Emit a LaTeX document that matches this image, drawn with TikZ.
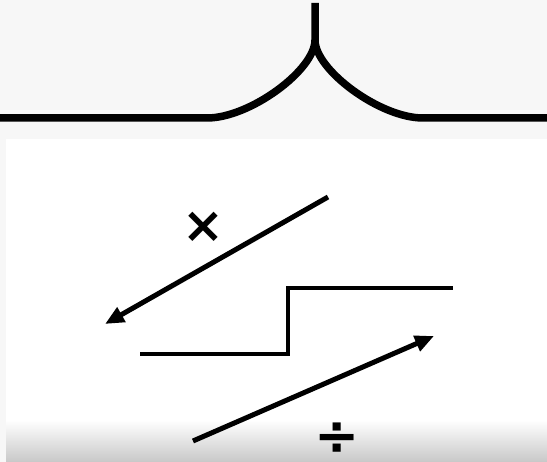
\documentclass[tikz,border=0pt]{standalone}
\usepackage{fontspec}
\newfontfamily\symfont{DejaVu Sans}
\usetikzlibrary{arrows.meta}
\definecolor{bggray}{RGB}{247,247,247}
\definecolor{botgray}{RGB}{200,200,200}
\tikzset{
  brace/.style={line width=7.5pt, line cap=butt},
  arrowline/.style={line width=5pt, -{Triangle[length=19pt,width=16pt]}},
  stepline/.style={line width=3.8pt},
  sym/.style={font=\symfont\bfseries\fontsize{50}{50}\selectfont, inner sep=0pt}
}
\begin{document}
\begin{tikzpicture}[x=1pt,y=-1pt]
\useasboundingbox (0,0) rectangle (547,462);
\fill[bggray] (0,0) rectangle (547,462);
\fill[white] (6,139) rectangle (547,421);
\shade[top color=white, bottom color=botgray] (6,420) rectangle (547,462);
% brace
\coordinate (bl) at (0,118);
\coordinate (bml) at (207,118);
\coordinate (bmr) at (423,118);
\coordinate (br) at (547,118);
\coordinate (tip) at (315,40);
\coordinate (top) at (315,3);
\draw[brace] (bl) -- (bml) .. controls (250,118) and (315,70) .. (tip) -- (top);
\draw[brace] (br) -- (bmr) .. controls (380,118) and (315,70) .. (tip);
% arrows
\coordinate (a1s) at (328,197);
\coordinate (a1e) at (105,324);
\draw[arrowline] (a1s) -- (a1e);
\coordinate (a2s) at (193,441);
\coordinate (a2e) at (434,336);
\draw[arrowline] (a2s) -- (a2e);
% step
\coordinate (s1) at (140,354);
\coordinate (s2) at (288,354);
\coordinate (s3) at (288,288);
\coordinate (s4) at (453,288);
\draw[stepline] (s1) -- (s2) -- (s3) -- (s4);
% symbols
\node[sym] (times) at (203,227) {×};
\node[sym, font=\symfont\bfseries\fontsize{54}{54}\selectfont] (div) at (337,439) {÷};
\end{tikzpicture}
\end{document}
